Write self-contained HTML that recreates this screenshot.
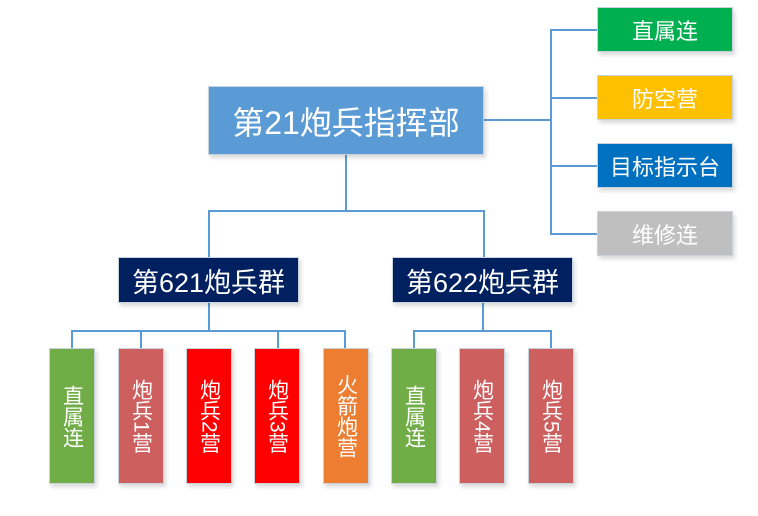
<!DOCTYPE html>
<html><head><meta charset="utf-8"><style>
body{margin:0;width:758px;height:516px;background:#fff;position:relative;overflow:hidden;font-family:"Liberation Sans","Noto Sans CJK SC",sans-serif;color:#fff}
.b{position:absolute;display:flex;align-items:center;justify-content:center;box-sizing:border-box;border:1px solid #c9d3de;box-shadow:2px 3px 4px rgba(0,0,0,0.15)}
.v{writing-mode:vertical-rl;text-orientation:mixed;font-size:21px;line-height:1}
.l{position:absolute;background:#5b9bd5}
</style></head><body>
<div class="l" style="left:484px;top:119px;width:67px;height:2px"></div>
<div class="l" style="left:550px;top:30px;width:2px;height:205px"></div>
<div class="l" style="left:550px;top:29px;width:47px;height:2px"></div>
<div class="l" style="left:550px;top:97px;width:47px;height:2px"></div>
<div class="l" style="left:550px;top:165px;width:47px;height:2px"></div>
<div class="l" style="left:550px;top:233px;width:47px;height:2px"></div>
<div class="l" style="left:345px;top:155px;width:2px;height:57px"></div>
<div class="l" style="left:208px;top:210px;width:277px;height:2px"></div>
<div class="l" style="left:208px;top:210px;width:2px;height:48px"></div>
<div class="l" style="left:483px;top:210px;width:2px;height:48px"></div>
<div class="l" style="left:208px;top:303px;width:2px;height:28px"></div>
<div class="l" style="left:71px;top:330px;width:275px;height:2px"></div>
<div class="l" style="left:71px;top:330px;width:2px;height:18px"></div>
<div class="l" style="left:140px;top:330px;width:2px;height:18px"></div>
<div class="l" style="left:277px;top:330px;width:2px;height:18px"></div>
<div class="l" style="left:344px;top:330px;width:2px;height:18px"></div>
<div class="l" style="left:482px;top:303px;width:2px;height:28px"></div>
<div class="l" style="left:413px;top:330px;width:138px;height:2px"></div>
<div class="l" style="left:413px;top:330px;width:2px;height:18px"></div>
<div class="l" style="left:550px;top:330px;width:2px;height:18px"></div>
<div class="b" style="left:208px;top:86px;width:276px;height:69px;background:#5b9bd5;font-size:32px">第21炮兵指挥部</div>
<div class="b" style="left:597px;top:7px;width:136px;height:45px;background:#00b050;font-size:22px">直属连</div>
<div class="b" style="left:597px;top:75px;width:136px;height:45px;background:#ffc000;font-size:22px">防空营</div>
<div class="b" style="left:597px;top:143px;width:136px;height:45px;background:#0070c0;font-size:22px">目标指示台</div>
<div class="b" style="left:597px;top:211px;width:136px;height:45px;background:#bfbfbf;font-size:22px">维修连</div>
<div class="b" style="left:118px;top:257px;width:181px;height:46px;background:#002060;font-size:27px">第621炮兵群</div>
<div class="b" style="left:392px;top:257px;width:181px;height:46px;background:#002060;font-size:27px">第622炮兵群</div>
<div class="b v" style="left:49px;top:348px;width:46px;height:136px;background:#70ad47">直属连</div>
<div class="b v" style="left:118px;top:348px;width:46px;height:136px;background:#cd5f5f">炮兵1营</div>
<div class="b v" style="left:186px;top:348px;width:46px;height:136px;background:#ff0000">炮兵2营</div>
<div class="b v" style="left:254px;top:348px;width:46px;height:136px;background:#ff0000">炮兵3营</div>
<div class="b v" style="left:323px;top:348px;width:46px;height:136px;background:#ed7d31">火箭炮营</div>
<div class="b v" style="left:391px;top:348px;width:46px;height:136px;background:#70ad47">直属连</div>
<div class="b v" style="left:459px;top:348px;width:46px;height:136px;background:#cd5f5f">炮兵4营</div>
<div class="b v" style="left:528px;top:348px;width:46px;height:136px;background:#cd5f5f">炮兵5营</div>
</body></html>
